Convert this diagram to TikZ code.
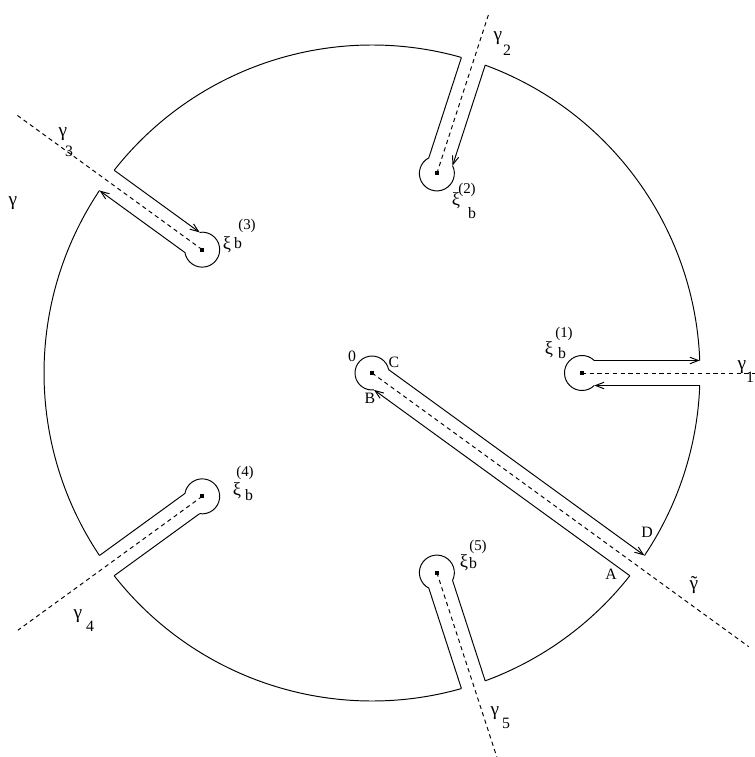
\documentclass[tikz,border=0pt]{standalone}
\usepackage{fontspec}
\setmainfont{Liberation Serif}
\usetikzlibrary{arrows.meta}
\newcommand\keycut[6]{% #1 angle, #2 distance, #3 keyhole radius, #4 ray end, #5 style of + line, #6 style of - line
  \begin{scope}[rotate=#1]
    \pgfmathsetmacro\ka{sqrt(#3*#3-\w*\w)}
    \pgfmathsetmacro\kal{asin(\w/#3)}
    \draw (#2+\ka,\w) arc[start angle=\kal, end angle=360-\kal, radius=#3];
    \draw[#5] (#2+\ka,\w) -- (\L,\w);
    \draw[#6] (\L,-\w) -- (#2+\ka,-\w);
    \draw[ray] (#2,0) -- (#4,0);
  \end{scope}
  \fill (#1:#2) ++(-2,-2) rectangle ++(4,4);
}
\begin{document}
\begin{tikzpicture}[scale=0.02, line width=0.55pt,
  ray/.style={dash pattern=on 2.4pt off 2pt},
  arr/.style={-{Straight Barb[length=1.7mm,width=1.3mm]}},
  plain/.style={},
  glab/.style={font=\fontsize{11}{11}\selectfont, inner sep=0pt},
  gsub/.style={font=\fontsize{9}{9}\selectfont, inner sep=0pt},
  xlab/.style={font=\fontsize{10.5}{10.5}\selectfont, inner sep=0pt},
  bsub/.style={font=\fontsize{9}{9}\selectfont, inner sep=0pt},
  psup/.style={font=\fontsize{8.5}{8.5}\selectfont, inner sep=0pt},
  plab/.style={font=\fontsize{9}{9}\selectfont, inner sep=0pt}]
\useasboundingbox (-372,-384) rectangle (383,373);
\def\R{328}
\def\w{12.5}
\pgfmathsetmacro\dl{asin(\w/\R)}
\def\L{327.76}
% big circle pieces
\draw (-36+\dl:\R) arc[start angle=-36+\dl, end angle=-\dl, radius=\R];
\draw (\dl:\R) arc[start angle=\dl, end angle=72-\dl, radius=\R];
\draw (72+\dl:\R) arc[start angle=72+\dl, end angle=144-\dl, radius=\R];
\draw (144+\dl:\R) arc[start angle=144+\dl, end angle=216-\dl, radius=\R];
\draw (216+\dl:\R) arc[start angle=216+\dl, end angle=288-\dl, radius=\R];
\draw (288+\dl:\R) arc[start angle=288+\dl, end angle=324-\dl, radius=\R];
% cuts
\keycut{0}{210}{17.5}{383}{arr}{arr}
\keycut{72}{210}{17.5}{378}{plain}{arr}
\keycut{144}{210}{17.5}{439}{arr}{arr}
\keycut{216}{210}{17.5}{438}{plain}{plain}
\keycut{288}{210}{17.5}{404}{plain}{plain}
\keycut{-36}{0}{17}{466}{arr}{arr}
% labels
\node[glab] (g) at (-359,170) {γ};
\node[glab] (g1) at (370,6) {γ};
\node[gsub] (g1s) at (378,-4) {1};
\node[glab] (g2) at (126,335) {γ};
\node[gsub] (g2s) at (135,323) {2};
\node[glab] (g3) at (-309,239) {γ};
\node[gsub] (g3s) at (-303,222) {3};
\node[glab] (g4) at (-294,-243) {γ};
\node[gsub] (g4s) at (-282,-253) {4};
\node[glab] (g5) at (123,-340) {γ};
\node[gsub] (g5s) at (134,-350) {5};
\node[glab] (gt) at (322,-212) {\ooalign{γ\cr\hfil˜\hfil\cr}};
% xi labels
\node[xlab] (x1) at (177,23) {ξ};
\node[bsub] (x1b) at (190,20) {b};
\node[psup] (x1p) at (192,39) {(1)};
\node[xlab] (x2) at (84,172) {ξ};
\node[bsub] (x2b) at (100,160) {b};
\node[psup] (x2p) at (95,183) {(2)};
\node[xlab] (x3) at (-145,128) {ξ};
\node[bsub] (x3b) at (-134,130) {b};
\node[psup] (x3p) at (-125,147) {(3)};
\node[xlab] (x4) at (-135,-118) {ξ};
\node[bsub] (x4b) at (-123,-122) {b};
\node[psup] (x4p) at (-127,-100) {(4)};
\node[xlab] (x5) at (92,-190) {ξ};
\node[bsub] (x5b) at (101,-190) {b};
\node[psup] (x5p) at (106,-174) {(5)};
% point labels
\node[plab] (p0) at (-20,17) {0};
\node[plab] (pC) at (22,11) {C};
\node[plab] (pB) at (-2,-25) {B};
\node[plab] (pA) at (239,-201) {A};
\node[plab] (pD) at (275,-159) {D};
\end{tikzpicture}
\end{document}
